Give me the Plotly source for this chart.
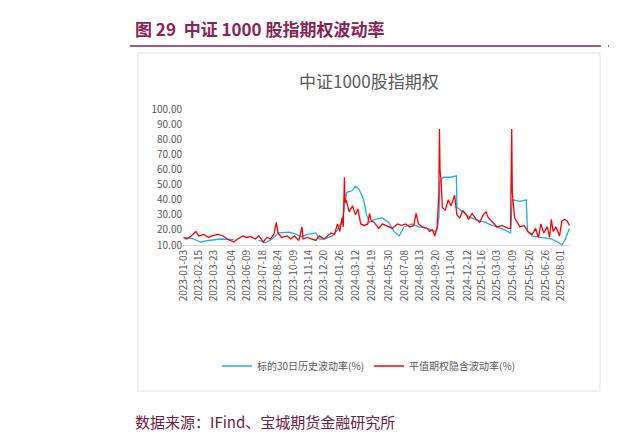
import plotly.graph_objects as go

hv_dates = ["2023-01-03", "2023-01-20", "2023-02-10", "2023-02-20", "2023-03-10", "2023-04-10", "2023-05-10",
            "2023-06-10", "2023-07-10", "2023-07-25", "2023-08-10", "2023-08-25", "2023-09-20", "2023-10-16",
            "2023-10-25", "2023-11-10", "2023-11-30", "2023-12-08", "2023-12-20", "2024-01-10", "2024-01-22",
            "2024-02-01", "2024-02-06", "2024-02-20", "2024-03-04", "2024-03-12", "2024-03-20", "2024-04-01",
            "2024-04-08", "2024-04-15", "2024-04-26", "2024-05-15", "2024-05-30", "2024-06-12", "2024-06-25",
            "2024-07-05", "2024-07-25", "2024-08-09", "2024-08-30", "2024-09-18", "2024-09-24", "2024-09-27",
            "2024-10-08", "2024-10-15", "2024-11-01", "2024-11-15", "2024-11-18", "2024-12-02", "2024-12-20",
            "2025-01-10", "2025-01-27", "2025-02-10", "2025-02-28", "2025-03-20", "2025-04-03", "2025-04-08",
            "2025-04-25", "2025-05-12", "2025-05-14", "2025-05-26", "2025-06-16", "2025-07-10", "2025-07-25",
            "2025-08-05", "2025-08-12", "2025-08-22"]
hv_values = [15, 14.5, 13, 12, 13, 14, 13.5, 14, 13, 11.5, 14, 18, 18.5, 17, 15.5, 17, 18, 14, 14, 16, 20,
             26, 33, 45, 46, 49, 47, 40, 30, 25, 27, 28, 25, 19, 16, 22, 24, 22, 21, 19, 20, 28,
             52, 55, 55, 56, 35, 32, 28, 26, 25, 24, 22, 20, 18, 40, 39, 40, 19, 16, 15, 14, 12,
             10, 13, 21]

iv_dates = ["2023-01-03", "2023-01-10", "2023-01-20", "2023-02-01", "2023-02-08", "2023-02-15", "2023-02-28",
            "2023-03-10", "2023-03-20", "2023-04-03", "2023-04-14", "2023-04-25", "2023-05-10", "2023-05-19",
            "2023-06-01", "2023-06-09", "2023-06-20", "2023-06-30", "2023-07-10", "2023-07-20", "2023-07-28",
            "2023-08-07", "2023-08-15", "2023-08-21", "2023-08-24", "2023-09-01", "2023-09-15", "2023-09-25",
            "2023-10-10", "2023-10-20", "2023-10-27", "2023-10-31", "2023-11-10", "2023-11-20", "2023-11-30",
            "2023-12-08", "2023-12-20", "2024-01-05", "2024-01-15", "2024-01-22", "2024-01-26", "2024-02-01",
            "2024-02-05", "2024-02-07", "2024-02-08", "2024-02-19", "2024-02-26", "2024-03-05", "2024-03-12",
            "2024-03-18", "2024-03-25", "2024-04-02", "2024-04-10", "2024-04-15", "2024-04-18", "2024-04-25",
            "2024-05-07", "2024-05-15", "2024-05-30", "2024-06-07", "2024-06-20", "2024-07-01", "2024-07-10",
            "2024-07-19", "2024-07-30", "2024-08-05", "2024-08-09", "2024-08-20", "2024-08-30", "2024-09-05",
            "2024-09-12", "2024-09-18", "2024-09-24", "2024-09-27", "2024-09-30", "2024-10-08", "2024-10-10",
            "2024-10-14", "2024-10-21", "2024-10-28", "2024-11-04", "2024-11-12", "2024-11-18", "2024-11-25",
            "2024-12-02", "2024-12-10", "2024-12-16", "2024-12-24", "2025-01-02", "2025-01-10", "2025-01-20",
            "2025-01-27", "2025-02-10", "2025-02-20", "2025-03-03", "2025-03-13", "2025-03-21", "2025-03-28",
            "2025-04-03", "2025-04-07", "2025-04-08", "2025-04-14", "2025-04-25", "2025-05-06", "2025-05-15",
            "2025-05-26", "2025-06-03", "2025-06-10", "2025-06-16", "2025-06-23", "2025-07-01", "2025-07-07",
            "2025-07-10", "2025-07-15", "2025-07-22", "2025-07-30", "2025-08-05", "2025-08-12", "2025-08-18",
            "2025-08-22"]
iv_values = [15, 14, 16, 17, 19, 16, 17, 15, 16, 17, 16, 14, 12, 14, 16, 15, 15.5, 14, 16, 12, 15,
             14, 17, 25, 18, 15, 16, 14, 16, 13, 22, 14, 15, 14, 13, 16, 14, 18, 17, 24, 19, 28,
             22, 55, 38, 40, 32, 36, 30, 34, 24, 23, 24, 31, 26, 25, 21, 24, 22, 21, 24, 23, 24,
             22, 23, 31, 24, 22, 21, 19, 20, 16, 22, 45, 87, 60, 52, 35, 33, 40, 36, 43, 30, 28,
             33, 30, 27, 31, 27, 25, 30, 32, 28, 25, 22, 23, 22, 21, 21, 87, 45, 28, 22, 23, 19,
             17, 21, 15, 24, 18, 22, 15, 27, 19, 22, 16, 26, 27, 26, 23]

tick_dates = ["2023-01-03", "2023-02-15", "2023-03-23", "2023-05-04", "2023-06-09", "2023-07-18", "2023-08-24",
              "2023-10-09", "2023-11-14", "2023-12-20", "2024-01-26", "2024-03-12", "2024-04-19", "2024-05-30",
              "2024-07-08", "2024-08-13", "2024-09-20", "2024-11-04", "2024-12-12", "2025-01-16", "2025-03-03",
              "2025-04-09", "2025-05-20", "2025-06-26", "2025-08-01"]
holidays = ["2023-01-23", "2023-01-24", "2023-01-25", "2023-01-26", "2023-01-27", "2023-10-02", "2023-10-03",
            "2023-10-04", "2023-10-05", "2023-10-06", "2024-02-12", "2024-02-13", "2024-02-14", "2024-02-15",
            "2024-02-16", "2024-10-01", "2024-10-02", "2024-10-03", "2024-10-04", "2024-10-07",
            "2025-01-28", "2025-01-29", "2025-01-30", "2025-01-31", "2025-02-03", "2025-02-04"]

maroon = "#8B2252"
L, R, T, B = 175, 562, 100, 237

def px(x):
    return (x - L) / (R - L)

def py(y):
    return (B - y) / (B - T)

fig = go.Figure()
fig.add_trace(go.Scatter(x=hv_dates, y=hv_values, mode="lines", name="标的30日历史波动率(%)",
                         line=dict(color="#1EAEE8", width=1.3)))
fig.add_trace(go.Scatter(x=iv_dates, y=iv_values, mode="lines", name="平值期权隐含波动率(%)",
                         line=dict(color="#FF0000", width=1.3)))

fig.update_layout(
    width=617, height=437, paper_bgcolor="white", plot_bgcolor="white",
    margin=dict(l=L, r=617 - R, t=T, b=437 - B),
    font=dict(family="Noto Sans CJK SC", color="#595959", size=10),
    showlegend=True,
    legend=dict(orientation="h", x=px(361), xanchor="center", y=py(358), yanchor="middle",
                font=dict(size=10, color="#595959"), bgcolor="rgba(0,0,0,0)"),
    xaxis=dict(tickvals=tick_dates, ticktext=tick_dates, tickangle=-90, showgrid=False,
               showline=True, linecolor="#D9D9D9", ticks="", tickfont=dict(size=10, color="#595959"),
               range=["2023-01-02", "2025-08-25"],
               rangebreaks=[dict(bounds=["sat", "mon"]), dict(values=holidays)]),
    yaxis=dict(range=[10, 101], tickvals=[10, 20, 30, 40, 50, 60, 70, 80, 90, 100],
               tickformat=".2f", showgrid=False, zeroline=False, ticks="",
               tickfont=dict(size=10, color="#595959")),
)
fig.add_annotation(text="<b>图 29  中证 1000 股指期权波动率</b>", xref="paper", yref="paper",
                   x=px(125), y=py(20), xanchor="left", yanchor="middle",
                   showarrow=False, font=dict(size=17, color=maroon))
fig.add_annotation(text="中证1000股指期权", xref="paper", yref="paper",
                   x=px(361), y=py(72), xanchor="center", yanchor="middle",
                   showarrow=False, font=dict(size=17, color="#595959"))
fig.add_annotation(text="数据来源：IFind、宝城期货金融研究所", xref="paper", yref="paper",
                   x=px(125), y=py(413), xanchor="left", yanchor="middle",
                   showarrow=False, font=dict(size=15, color="#6B2144"))
fig.add_shape(type="line", xref="paper", yref="paper", x0=px(122), x1=px(593),
              y0=py(38), y1=py(38), line=dict(color=maroon, width=1.5))
fig.add_shape(type="line", xref="paper", yref="paper", x0=px(600), x1=px(617),
              y0=py(38), y1=py(38), line=dict(color=maroon, width=1.5))
fig.add_shape(type="rect", xref="paper", yref="paper", x0=px(130), x1=px(592),
              y0=py(383), y1=py(45), line=dict(color="#E0E0E0", width=1))
fig.write_html("out.html")
